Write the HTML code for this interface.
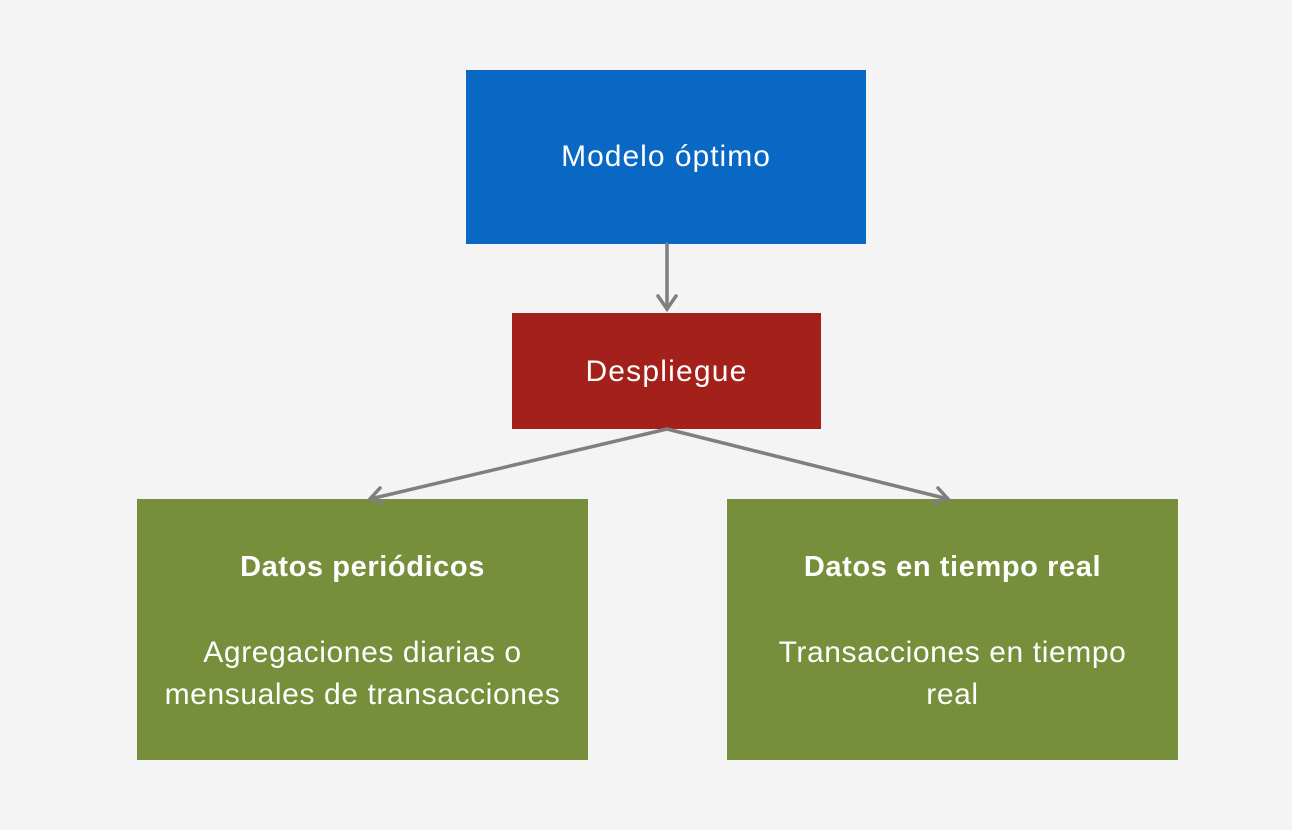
<!DOCTYPE html>
<html><head><meta charset="utf-8"><style>
body{margin:0;width:1292px;height:830px;background:#f4f4f4;position:relative;overflow:hidden;font-family:"Liberation Sans","DejaVu Sans",sans-serif;color:#fff}
.b{position:absolute;display:flex;flex-direction:column;align-items:center;justify-content:center;text-align:center;box-sizing:border-box}
</style></head><body>
<div class="b" style="left:466px;top:70px;width:400px;height:174px;background:#0868c4;font-size:30px;letter-spacing:1px">Modelo óptimo</div>
<div class="b" style="left:512px;top:313px;width:309px;height:116px;background:#a3201b;font-size:30px;letter-spacing:1.2px;padding-top:2px">Despliegue</div>
<div class="b" style="left:137px;top:499px;width:451px;height:261px;background:#778f3b;font-size:30px;line-height:42px;letter-spacing:0.6px;white-space:nowrap">
<div style="font-weight:bold;font-size:29px;margin-top:2px">Datos periódicos</div>
<div style="margin-top:44px">Agregaciones diarias o<br>mensuales de transacciones</div></div>
<div class="b" style="left:727px;top:499px;width:451px;height:261px;background:#778f3b;font-size:30px;line-height:42px;letter-spacing:0.6px;white-space:nowrap">
<div style="font-weight:bold;font-size:29px;margin-top:2px">Datos en tiempo real</div>
<div style="margin-top:44px">Transacciones en tiempo<br>real</div></div>
<svg width="1292" height="830" style="position:absolute;left:0;top:0">
<g stroke="#7f7f7f" stroke-width="3.5" fill="none" stroke-linecap="round">
<line x1="667" y1="244" x2="667" y2="309"/>
<polyline points="658,296 667,309 676,296"/>
<line x1="667" y1="429" x2="370" y2="499"/>
<polyline points="380,488 370,499 384,503"/>
<line x1="667" y1="429" x2="948" y2="499"/>
<polyline points="934,503 948,499 938,488"/>
</g></svg>
</body></html>
